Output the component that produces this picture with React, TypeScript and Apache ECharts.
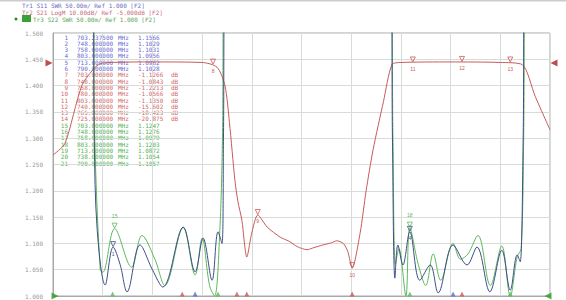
import React, { useEffect, useRef } from "react";
import * as echarts from "echarts";

const headerLines = [
  "Tr1 S11 SWR 50.00m/ Ref 1.000 [F2]",
  "Tr2 S21 LogM 10.00dB/ Ref -5.000dB [F2]",
  "Tr3 S22 SWR 50.00m/ Ref 1.000 [F2]",
];
const headerColors = ["#6a6ac8", "#c86a7a", "#58a858"];

const markerIds = ["1", "2", "3", "4", "5", "6", "7", "8", "9", "10", "11", "12", "13", "14", "15", "16", "17", "18", "19", "20", "21"];
const markerFreqs = [
  "703.237500", "748.000000", "758.000000", "803.000000", "713.000000", "790.000000",
  "703.000000", "748.000000", "758.000000", "780.000000", "803.000000", "740.000000", "765.000000", "725.000000",
  "703.000000", "748.000000", "758.000000", "803.000000", "713.000000", "738.000000", "790.000000",
];
const markerValues = [
  "1.1566", "1.1029", "1.1031", "1.0956", "1.0962", "1.1028",
  "-1.1266", "-1.0843", "-1.2213", "-1.0566", "-1.1350", "-15.602", "-18.423", "-20.875",
  "1.1247", "1.1276", "1.0979", "1.1203", "1.0872", "1.1054", "1.1057",
];
const markerTrace = [1, 1, 1, 1, 1, 1, 2, 2, 2, 2, 2, 2, 2, 2, 3, 3, 3, 3, 3, 3, 3];

// Tr1 S11 SWR
const tr1: [number, number][] = [
  [0, 1.6], [8.0, 1.6], [8.3, 1.3], [8.9, 1.125], [10.5, 1.021], [12.1, 1.093], [13.5, 1.06],
  [14.9, 1.008], [17.5, 1.097], [20.0, 1.05], [22.1, 1.017], [26.2, 1.131], [28.6, 1.046],
  [30.2, 1.11], [32.0, 1.03], [33.2, 1.122], [34.0, 1.1], [34.3, 1.3], [34.6, 1.6],
  [68.0, 1.6], [68.3, 1.3], [68.8, 1.034], [69.4, 1.097], [70.4, 1.059], [71.8, 1.122],
  [73.8, 1.03], [75.9, 1.059], [77.5, 1.006], [80.5, 1.097], [83.3, 1.059], [85.3, 1.093],
  [87.9, 1.008], [90.3, 1.087], [92.0, 1.011], [93.4, 1.078], [94.0, 1.065], [94.6, 1.3],
  [94.9, 1.6], [100, 1.6],
];

// Tr2 S21 LogM
const tr2: [number, number][] = [
  [0, 1.268], [2.4, 1.29], [5.8, 1.4], [8.5, 1.435], [10, 1.443], [20, 1.445], [30, 1.444],
  [33, 1.435], [34.6, 1.4], [35.5, 1.33], [36.6, 1.22], [37.2, 1.18], [38, 1.144], [39, 1.074],
  [40, 1.12], [41.2, 1.154], [43.1, 1.131], [45.7, 1.112], [47.5, 1.104], [49.1, 1.094],
  [50.2, 1.09], [51.1, 1.088], [52.5, 1.092], [54.3, 1.097], [56, 1.101], [57.1, 1.105],
  [58.4, 1.1], [59.3, 1.085], [60.2, 1.053], [61.8, 1.12], [63, 1.2], [64.4, 1.278],
  [66.5, 1.37], [68.2, 1.44], [70, 1.444], [80, 1.445], [90, 1.444], [94.4, 1.44],
  [97, 1.38], [100, 1.316],
];

// Tr3 S22 SWR
const tr3: [number, number][] = [
  [0, 1.6], [8.0, 1.6], [8.4, 1.3], [9.5, 1.05], [10.0, 1.045], [12.4, 1.128], [15.8, 1.055],
  [17.9, 1.115], [20.5, 1.07], [22.5, 1.02], [26.2, 1.13], [28.6, 1.04], [30.0, 1.11],
  [31.5, 1.02], [32.5, 1.0], [33.5, 1.11], [34.1, 1.3], [34.4, 1.6],
  [68.0, 1.6], [68.4, 1.3], [68.9, 1.06], [69.6, 1.09], [71.0, 1.0], [71.8, 1.13],
  [73.5, 1.06], [75, 1.02], [76.5, 1.08], [78, 1.03], [80.5, 1.1], [82, 1.07], [83.5, 1.08],
  [85.5, 1.115], [88, 1.02], [90.3, 1.095], [92, 1.0], [93.4, 1.075], [94.2, 1.09],
  [94.7, 1.3], [95, 1.6], [100, 1.6],
];

const tr2Markers: [number, number, string][] = [
  [32.2, 1.44, "8"], [41.2, 1.154, "9"], [60.2, 1.053, "10"], [72.4, 1.444, "11"],
  [82.3, 1.445, "12"], [92, 1.444, "13"],
];
const tr1Markers: [number, number, string][] = [[12.1, 1.093, "1"], [71.8, 1.122, "4"]];
const tr3Markers: [number, number, string][] = [[12.4, 1.128, "15"], [71.8, 1.13, "18"]];

const bottomGreen = [12, 33.2, 71.8, 92];
const bottomBlue = [28.6, 80.5];
const bottomRed = [26, 37, 39, 60.2, 82.3];

const BLUE = "#3f4f86";
const RED = "#c85a5a";
const GREEN = "#5cb85c";

export default function App() {
  const ref = useRef<HTMLDivElement>(null);
  useEffect(() => {
    if (!ref.current) return;
    const chart = echarts.init(ref.current, undefined, { renderer: "svg" });
    const gl = 53, gt = 33, gw = 497, gh = 263;
    const rowH = 6.3;
    const tableTexts: any[] = [];
    const colorFor = (t: number) => (t === 1 ? "#6a6ad0" : t === 2 ? "#d06a6a" : "#55b055");
    markerIds.forEach((id, i) => {
      const y = gt + 1 + i * rowH;
      const c = colorFor(markerTrace[i]);
      const st = { fontSize: 6, fontFamily: "DejaVu Sans Mono", fill: c };
      tableTexts.push({ type: "text", x: 68, y, style: { ...st, text: id, textAlign: "right" } });
      tableTexts.push({ type: "text", x: 77, y, style: { ...st, text: markerFreqs[i] } });
      tableTexts.push({ type: "text", x: 118, y, style: { ...st, text: "MHz" } });
      tableTexts.push({ type: "text", x: 138, y, style: { ...st, text: markerValues[i] } });
      if (markerTrace[i] === 2) tableTexts.push({ type: "text", x: 171, y, style: { ...st, text: "dB" } });
    });
    const headerTexts: any[] = headerLines.map((t, i) => ({
      type: "text", x: i === 2 ? 33 : 22, y: 2 + i * 7,
      style: { text: t, fontSize: 6, fontFamily: "DejaVu Sans Mono", fill: headerColors[i] },
    }));
    const mk = (arr: [number, number, string][], color: string, pos: string) => ({
      symbol: "triangle", symbolSize: 5, symbolRotate: 180, symbolOffset: [0, -3],
      itemStyle: { color: "none", borderColor: color, borderWidth: 0.8 },
      label: { show: true, position: pos, distance: 2, fontSize: 5, color, formatter: (p: any) => p.name },
      data: arr.map((m) => ({ coord: [m[0], m[1]], name: m[2] })),
    });
    const bottom = (xs: number[], color: string) => ({
      type: "scatter", data: xs.map((x) => [x, 1.0]), symbol: "triangle", symbolSize: 5,
      symbolOffset: [0, -2], itemStyle: { color }, clip: false, z: 5, silent: true,
    });
    chart.setOption({
      animation: false,
      backgroundColor: "#ffffff",
      grid: { left: gl, top: gt, width: gw, height: gh, show: true, borderColor: "#a8a8a8", borderWidth: 1 },
      xAxis: {
        type: "value", min: 0, max: 100, interval: 10,
        axisLabel: { show: false }, axisTick: { show: false },
        axisLine: { lineStyle: { color: "#a8a8a8" } },
        splitLine: { lineStyle: { color: "#d6dcd6", width: 1 } },
      },
      yAxis: {
        type: "value", min: 1.0, max: 1.5, interval: 0.05,
        axisLabel: { fontSize: 6, color: "#9a9a9a", fontFamily: "DejaVu Sans Mono", margin: 10, formatter: (v: number) => v.toFixed(3) },
        axisTick: { show: false },
        axisLine: { lineStyle: { color: "#a8a8a8" } },
        splitLine: { lineStyle: { color: "#d6dcd6", width: 1 } },
      },
      series: [
        { type: "line", data: tr2, symbol: "none", smooth: 0.25, lineStyle: { color: RED, width: 1 }, clip: true, z: 3, markPoint: mk(tr2Markers, RED, "bottom") },
        { type: "line", data: tr3, symbol: "none", smooth: 0.35, lineStyle: { color: GREEN, width: 1 }, clip: true, z: 2, markPoint: mk(tr3Markers, GREEN, "top") },
        { type: "line", data: tr1, symbol: "none", smooth: 0.35, lineStyle: { color: BLUE, width: 1 }, clip: true, z: 4, markPoint: mk(tr1Markers, BLUE, "bottom") },
        bottom(bottomGreen, GREEN),
        bottom(bottomBlue, "#5a6ad0"),
        bottom(bottomRed, RED),
        {
          type: "scatter", clip: false, silent: true, z: 6, symbol: "triangle", symbolSize: 7,
          data: [
            { value: [0, 1.443], symbolRotate: -90, symbolOffset: [-4, 0], itemStyle: { color: "#b02020" } },
            { value: [100, 1.443], symbolRotate: 90, symbolOffset: [4, 0], itemStyle: { color: "#b02020" } },
            { value: [0, 1.0], symbolRotate: -90, symbolOffset: [2, 0], itemStyle: { color: "#2a9a2a" } },
            { value: [100, 1.0], symbolRotate: 90, symbolOffset: [-2, 0], itemStyle: { color: "#2a9a2a" } },
          ],
        },
      ],
      graphic: [
        { type: "rect", shape: { x: 0, y: 0, width: 566, height: 1.5 }, style: { fill: "#cccccc" } },
        { type: "rect", shape: { x: 22, y: 15, width: 9, height: 7 }, style: { fill: "#3aa03a" } },
        { type: "circle", shape: { cx: 16, cy: 19, r: 1.5 }, style: { fill: "#2a8a2a" } },
        ...headerTexts,
        ...tableTexts,
      ],
    });
    return () => chart.dispose();
  }, []);
  return <div ref={ref} style={{ position: "fixed", left: 0, top: 0, width: 566, height: 300 }} />;
}
